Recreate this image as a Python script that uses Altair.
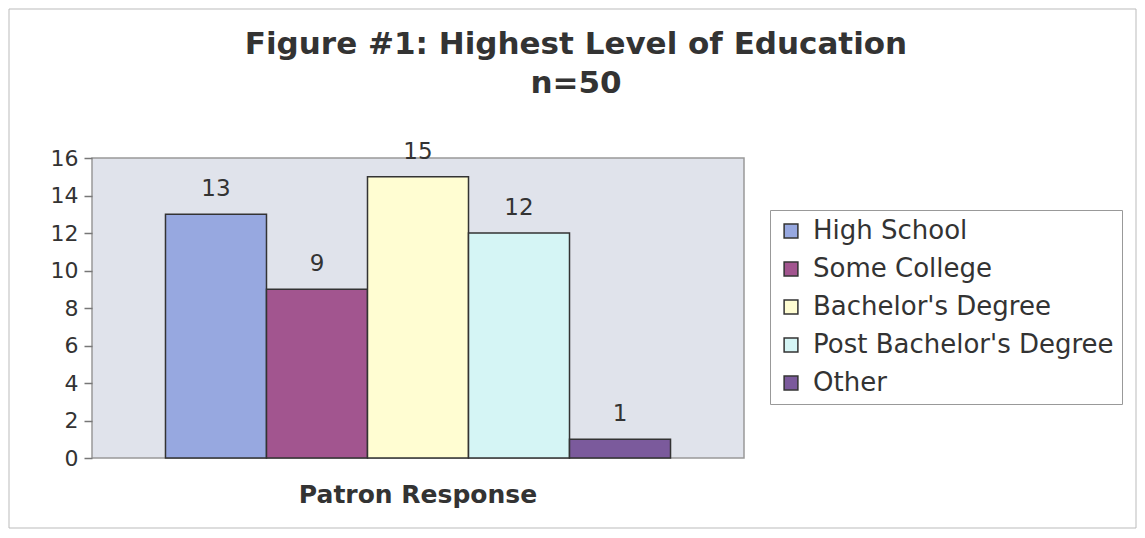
import altair as alt
import pandas as pd

categories = ["High School", "Some College", "Bachelor's Degree", "Post Bachelor's Degree", "Other"]
counts = [13, 9, 15, 12, 1]
group_label = "Patron Response"
bar_colors = ["#97A8E0", "#A2558F", "#FFFDD2", "#D5F5F5", "#7B5A9C"]
y_ticks = [0, 2, 4, 6, 8, 10, 12, 14, 16]
title_lines = ["Figure #1: Highest Level of Education", "n=50"]

df = pd.DataFrame({
    "group": [group_label] * len(categories),
    "category": categories,
    "count": counts,
})

FONT = "DejaVu Sans"
TXT = "#333333"

x_enc = alt.X("group:N", title=None,
              scale=alt.Scale(paddingOuter=0.1455, paddingInner=0),
              axis=alt.Axis(labelAngle=0, ticks=False, domain=False,
                            labelFont=FONT, labelFontSize=25, labelFontWeight="bold",
                            labelColor=TXT, labelPadding=24, labelLimit=500))
xo_enc = alt.XOffset("category:N", sort=categories, scale=alt.Scale(paddingInner=0, paddingOuter=0))
y_enc = alt.Y("count:Q", title=None,
              scale=alt.Scale(domain=[0, 16], nice=False),
              axis=alt.Axis(values=y_ticks, grid=False, domain=False,
                            tickSize=8, tickColor="#777777", tickWidth=1.5,
                            labelFont=FONT, labelFontSize=22, labelColor=TXT,
                            labelPadding=6))

base = alt.Chart(df)

bars = base.mark_bar(stroke="#333333", strokeWidth=1.5).encode(
    x=x_enc,
    xOffset=xo_enc,
    y=y_enc,
    color=alt.Color("category:N", sort=categories,
                    scale=alt.Scale(domain=categories, range=bar_colors),
                    legend=alt.Legend(title=None, orient="none", legendX=678, legendY=52,
                                      fillColor="white", strokeColor="#999999",
                                      padding=8, symbolType="square", symbolSize=190,
                                      symbolStrokeColor="#333333", symbolStrokeWidth=1.5,
                                      labelFont=FONT, labelFontSize=26, labelColor=TXT,
                                      labelLimit=500, rowPadding=12, labelOffset=9)),
)

labels = base.mark_text(font=FONT, fontSize=23, color=TXT, dy=-18, baseline="alphabetic").encode(
    x=x_enc,
    xOffset=xo_enc,
    y=y_enc,
    text=alt.Text("count:Q"),
)

border = alt.Chart(pd.DataFrame({"d": [0]})).mark_rect(
    fillOpacity=0, stroke="#BBBBBB", strokeWidth=1, clip=False
).encode(
    x=alt.value(-83), x2=alt.value(1044), y=alt.value(-149), y2=alt.value(370)
)

chart = alt.layer(border, bars, labels).properties(
    width=652,
    height=300,
    autosize=alt.AutoSizeParams(type="none"),
    padding={"left": 84, "top": 150, "right": 393, "bottom": 72},
    view=alt.ViewBackground(fill="#E0E3EB", stroke="#999999", strokeWidth=1.5),
    title=alt.TitleParams(text=title_lines, font=FONT, fontSize=31, fontWeight="bold",
                          color=TXT, anchor="middle", frame="group", dx=158,
                          lineHeight=39, offset=-91),
).configure_view(
    fill="#E0E3EB", stroke="#999999", strokeWidth=1.5
).configure(background="white")

chart.save("out.html", embed_options={"renderer": "svg", "actions": False})
